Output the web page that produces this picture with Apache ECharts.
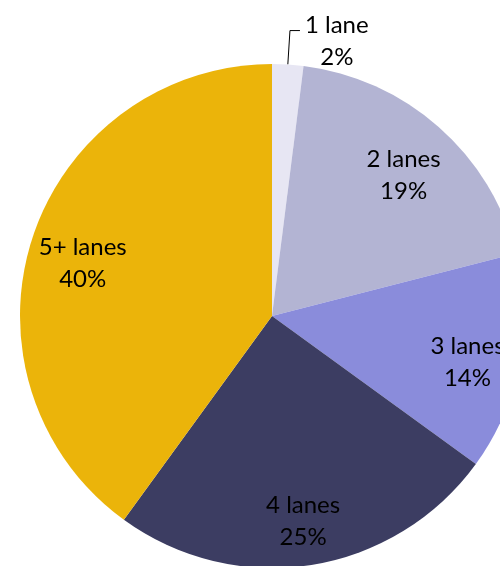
<!DOCTYPE html>
<html>
<head>
<meta charset="utf-8">
<script src="https://cdn.jsdelivr.net/npm/echarts@6/dist/echarts.min.js"></script>
<style>
  html, body { margin: 0; padding: 0; background: #fff; }
  #chart { width: 500px; height: 566px; }
</style>
</head>
<body>
<div id="chart"></div>
<script>
const categories = ['1 lane', '2 lanes', '3 lanes', '4 lanes', '5+ lanes'];
const shares = [2, 19, 14, 25, 40];
const colors = ['#e7e6f3', '#b3b4d3', '#8a8cdb', '#3c3d62', '#ebb40a'];

const font = 'Lato, "Open Sans", sans-serif';
const fontSize = 24;
const lineH = 32;

const myChart = echarts.init(document.getElementById('chart'));

// main slices; only the small slice gets an outside label
const sliceData = categories.map((name, i) => ({
  name: name,
  value: shares[i],
  itemStyle: { color: colors[i] },
  label: { show: i === 0 },
  labelLine: { show: i === 0 }
}));

// transparent ring, used only to put the inner labels further out
const labelData = categories.map((name, i) => ({
  name: name,
  value: shares[i],
  label: { show: i !== 0 }
}));

const option = {
  animation: false,
  series: [
    {
      type: 'pie',
      center: [272, 316],
      radius: [0, 252],
      startAngle: 90,
      clockwise: true,
      data: sliceData,
      label: {
        position: 'outside',
        formatter: '{a|{b}}\n{a|{d}%}',
        color: '#000',
        fontFamily: font,
        fontSize: fontSize,
        lineHeight: lineH,
        padding: [22, 0, 0, 0],
        rich: { a: { align: 'center', fontFamily: font, fontSize: fontSize, lineHeight: lineH, color: '#000' } }
      },
      labelLine: {
        length: 34,
        length2: 10,
        lineStyle: { color: '#000', width: 1 }
      }
    },
    {
      type: 'pie',
      center: [272, 325],
      radius: [140, 252],
      startAngle: 90,
      clockwise: true,
      silent: true,
      data: labelData,
      itemStyle: { color: 'rgba(0,0,0,0)' },
      label: {
        position: 'inside',
        formatter: '{b}\n{d}%',
        color: '#000',
        fontFamily: font,
        fontSize: fontSize,
        lineHeight: lineH
      },
      labelLine: { show: false }
    }
  ]
};

myChart.setOption(option);
</script>
</body>
</html>
